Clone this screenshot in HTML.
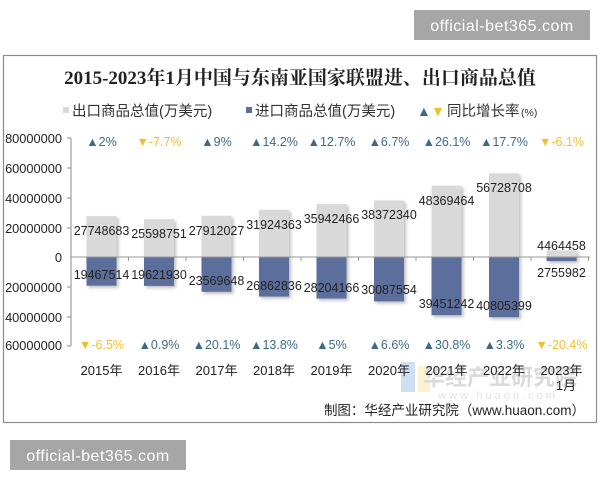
<!DOCTYPE html>
<html><head><meta charset="utf-8"><style>
html,body{margin:0;padding:0;background:#fff;width:600px;height:480px;overflow:hidden}
svg{display:block;font-family:"Liberation Sans","Noto Sans CJK SC",sans-serif}
</style></head><body>
<svg width="600" height="480" viewBox="0 0 600 480" xmlns="http://www.w3.org/2000/svg">
<defs><filter id="sh" x="-30%" y="-30%" width="160%" height="160%"><feDropShadow dx="2" dy="2" stdDeviation="1.5" flood-color="#000" flood-opacity="0.25"/></filter></defs>
<rect x="414" y="10" width="176" height="30" fill="#a6a6a6"/>
<text x="502" y="31" font-size="16" fill="#fff" text-anchor="middle" letter-spacing="0.5">official-bet365.com</text>
<rect x="3.5" y="55.5" width="593" height="367" fill="#fff" stroke="#8c8c8c" stroke-width="1.2"/>
<text x="300" y="84" font-size="19" font-weight="bold" text-anchor="middle" fill="#222" font-family="'Liberation Serif','Noto Serif CJK SC',serif">2015-2023年1月中国与东南亚国家联盟进、出口商品总值</text>
<g font-size="14.5" fill="#333">
<rect x="63" y="107" width="6" height="6" fill="#d9d9d9"/><text x="72" y="116">出口商品总值(万美元)</text>
<rect x="246" y="107" width="6" height="6" fill="#5b6e9c"/><text x="255" y="116">进口商品总值(万美元)</text>
<text x="417" y="116" font-size="14" fill="#3d6a87">▲</text><text x="431" y="116" font-size="14" fill="#f0bf2e">▼</text>
<text x="447" y="116">同比增长率</text><text x="521" y="116" font-size="10.5">(%)</text>
</g>
<g font-size="12.8" fill="#222" text-anchor="end">
<text x="62" y="143">80000000</text><text x="62" y="173">60000000</text><text x="62" y="203">40000000</text><text x="62" y="233">20000000</text><text x="62" y="262">0</text><text x="62" y="292">20000000</text><text x="62" y="322">40000000</text><text x="62" y="350">60000000</text>
</g>
<g stroke="#888" stroke-width="1">
<line x1="71" y1="138" x2="71" y2="346"/>
<line x1="67" y1="138" x2="71" y2="138"/><line x1="67" y1="168" x2="71" y2="168"/><line x1="67" y1="198" x2="71" y2="198"/><line x1="67" y1="228" x2="71" y2="228"/><line x1="67" y1="287" x2="71" y2="287"/><line x1="67" y1="317" x2="71" y2="317"/><line x1="67" y1="346" x2="71" y2="346"/>
</g>
<g filter="url(#sh)">
<g fill="#d9d9d9">
<rect x="86.5" y="216.1" width="30" height="40.9"/><rect x="144" y="219.2" width="30" height="37.8"/><rect x="201.5" y="215.8" width="30" height="41.2"/><rect x="259" y="209.9" width="30" height="47.1"/><rect x="316.5" y="204" width="30" height="53"/><rect x="374" y="200.4" width="30" height="56.6"/><rect x="431.5" y="185.7" width="30" height="71.3"/><rect x="489" y="173.3" width="30" height="83.7"/><rect x="546.5" y="250.4" width="30" height="6.6"/>
</g>
<g fill="#5b6e9c">
<rect x="86.5" y="257" width="30" height="28.7"/><rect x="144" y="257" width="30" height="28.9"/><rect x="201.5" y="257" width="30" height="34.8"/><rect x="259" y="257" width="30" height="39.6"/><rect x="316.5" y="257" width="30" height="41.6"/><rect x="374" y="257" width="30" height="44.4"/><rect x="431.5" y="257" width="30" height="58.2"/><rect x="489" y="257" width="30" height="60.2"/><rect x="546.5" y="257" width="30" height="4.1"/>
</g>
</g>
<g stroke="#999" stroke-width="1">
<line x1="71" y1="257" x2="590" y2="257"/>
<line x1="128.5" y1="257" x2="128.5" y2="261"/><line x1="186" y1="257" x2="186" y2="261"/><line x1="243.5" y1="257" x2="243.5" y2="261"/><line x1="301" y1="257" x2="301" y2="261"/><line x1="358.5" y1="257" x2="358.5" y2="261"/><line x1="416" y1="257" x2="416" y2="261"/><line x1="473.5" y1="257" x2="473.5" y2="261"/><line x1="531" y1="257" x2="531" y2="261"/><line x1="588.5" y1="257" x2="588.5" y2="261"/>
</g>
<g font-size="12.5" fill="#222" text-anchor="middle">
<text x="101.5" y="235">27748683</text><text x="159" y="238">25598751</text><text x="216.5" y="235">27912027</text><text x="274" y="229">31924363</text><text x="331.5" y="223">35942466</text><text x="389" y="219">38372340</text><text x="446.5" y="205">48369464</text><text x="504" y="192">56728708</text><text x="561.5" y="250">4464458</text>
<text x="101.5" y="279">19467514</text><text x="159" y="279">19621930</text><text x="216.5" y="285">23569648</text><text x="274" y="290">26862836</text><text x="331.5" y="292">28204166</text><text x="389" y="294">30087554</text><text x="446.5" y="308">39451242</text><text x="504" y="310">40805399</text><text x="561.5" y="277">2755982</text>
</g>
<g font-size="12.5" text-anchor="middle">
<text x="101.5" y="146" fill="#3d6a87">▲2%</text><text x="159" y="146" fill="#f0bf2e">▼-7.7%</text><text x="216.5" y="146" fill="#3d6a87">▲9%</text><text x="274" y="146" fill="#3d6a87">▲14.2%</text><text x="331.5" y="146" fill="#3d6a87">▲12.7%</text><text x="389" y="146" fill="#3d6a87">▲6.7%</text><text x="446.5" y="146" fill="#3d6a87">▲26.1%</text><text x="504" y="146" fill="#3d6a87">▲17.7%</text><text x="561.5" y="146" fill="#f0bf2e">▼-6.1%</text>
<text x="101.5" y="349" fill="#f0bf2e">▼-6.5%</text><text x="159" y="349" fill="#3d6a87">▲0.9%</text><text x="216.5" y="349" fill="#3d6a87">▲20.1%</text><text x="274" y="349" fill="#3d6a87">▲13.8%</text><text x="331.5" y="349" fill="#3d6a87">▲5%</text><text x="389" y="349" fill="#3d6a87">▲6.6%</text><text x="446.5" y="349" fill="#3d6a87">▲30.8%</text><text x="504" y="349" fill="#3d6a87">▲3.3%</text><text x="561.5" y="349" fill="#f0bf2e">▼-20.4%</text>
</g>
<rect x="401" y="362" width="14" height="30" fill="#cfe0f5"/><rect x="418" y="366" width="12" height="26" fill="#f9f3cf"/>
<text x="500" y="385" font-size="22" fill="#dadada" text-anchor="middle" font-weight="bold">华经产业研究院</text>
<text x="498" y="399" font-size="11" fill="#e2e2e2" text-anchor="middle" letter-spacing="3">www.huaon.com</text>
<g font-size="13" fill="#222" text-anchor="middle">
<text x="101.5" y="375">2015年</text><text x="159" y="375">2016年</text><text x="216.5" y="375">2017年</text><text x="274" y="375">2018年</text><text x="331.5" y="375">2019年</text><text x="389" y="375">2020年</text><text x="446.5" y="375">2021年</text><text x="504" y="375">2022年</text><text x="561.5" y="375">2023年</text>
<text x="566" y="390">1月</text>
</g>
<text x="585" y="415" font-size="13.5" fill="#222" text-anchor="end">制图：华经产业研究院（www.huaon.com）</text>
<rect x="10" y="440" width="176" height="30" fill="#a6a6a6"/>
<text x="98" y="461" font-size="16" fill="#fff" text-anchor="middle" letter-spacing="0.5">official-bet365.com</text>
</svg>
</body></html>
